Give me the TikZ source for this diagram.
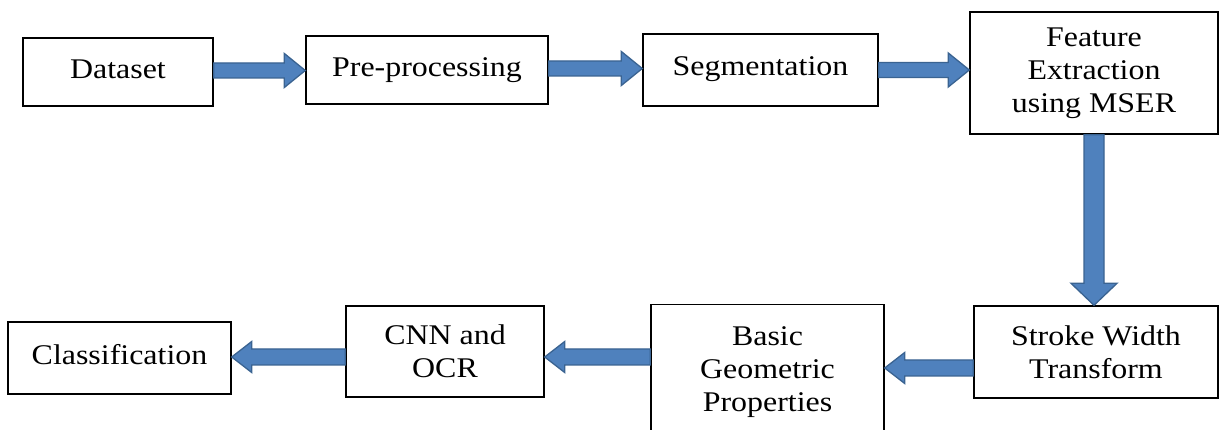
\documentclass[tikz,border=0pt]{standalone}
\usepackage{fontspec}
\setmainfont[FakeStretch=1.12]{Liberation Serif}
\usetikzlibrary{calc}
\definecolor{arrfill}{HTML}{4F81BD}
\definecolor{arrdraw}{HTML}{3A6391}
\tikzset{
  box/.style={draw=black, line width=1.4pt, fill=white, align=center, inner sep=0pt,
    font=\fontsize{28.5}{33}\selectfont},
  blockarr/.style={fill=arrfill, draw=arrdraw, line width=1.3pt, line join=miter}
}
% right arrow: from node anchor #1 to node anchor #2 at height #3
\newcommand\rarr[3]{%
  \path[blockarr] let \p1=(#1), \p2=(#2), \p3=(0,#3) in
    (\x1,\y3+7.5pt) -- (\x2-21pt,\y3+7.5pt) -- (\x2-21pt,\y3+17pt) -- (\x2,\y3)
    -- (\x2-21pt,\y3-17pt) -- (\x2-21pt,\y3-7.5pt) -- (\x1,\y3-7.5pt) -- cycle;}
\newcommand\larr[3]{%
  \path[blockarr] let \p1=(#1), \p2=(#2), \p3=(0,#3) in
    (\x1,\y3+8pt) -- (\x2+20pt,\y3+8pt) -- (\x2+20pt,\y3+15.5pt) -- (\x2,\y3)
    -- (\x2+20pt,\y3-15.5pt) -- (\x2+20pt,\y3-8pt) -- (\x1,\y3-8pt) -- cycle;}
\newcommand\darr[3]{%
  \path[blockarr] let \p1=(#1), \p2=(#2), \p3=(#3,0) in
    (\x3-10pt,\y1) -- (\x3-10pt,\y2+22pt) -- (\x3-23pt,\y2+22pt) -- (\x3,\y2)
    -- (\x3+23pt,\y2+22pt) -- (\x3+10pt,\y2+22pt) -- (\x3+10pt,\y1) -- cycle;}
\begin{document}
\begin{tikzpicture}[x=1pt,y=-1pt]
\useasboundingbox (0,0) rectangle (1219,430);
\clip (0,0) rectangle (1219,430);
\node[box, minimum width=190pt, minimum height=68pt] (ds) at (118,72) {\raisebox{5pt}{Dataset}};
\node[box, minimum width=242pt, minimum height=68pt] (pp) at (427,70) {\raisebox{4pt}{Pre-processing}};
\node[box, minimum width=235pt, minimum height=72pt] (sg) at (760.5,70) {\raisebox{7pt}{Segmentation}};
\node[box, minimum width=248pt, minimum height=122pt] (fe) at (1094,73) {Feature\\Extraction\\using MSER};
\node[box, minimum width=244pt, minimum height=92pt] (sw) at (1096,352) {Stroke Width\\Transform};
\node[box, minimum width=233pt, minimum height=135pt] (bg) at (767.5,372) {Basic\\Geometric\\Properties};
\node[box, minimum width=198pt, minimum height=91pt] (cn) at (445,351.5) {CNN and\\OCR};
\node[box, minimum width=223pt, minimum height=72pt] (cl) at (119.5,358) {\raisebox{8pt}{Classification}};
\rarr{ds.east}{pp.west}{70.5}
\rarr{pp.east}{sg.west}{68.5}
\rarr{sg.east}{fe.west}{70}
\darr{fe.south}{sw.north}{1094}
\larr{sw.west}{bg.east}{368}
\larr{bg.west}{cn.east}{357}
\larr{cn.west}{cl.east}{357}
\end{tikzpicture}
\end{document}
